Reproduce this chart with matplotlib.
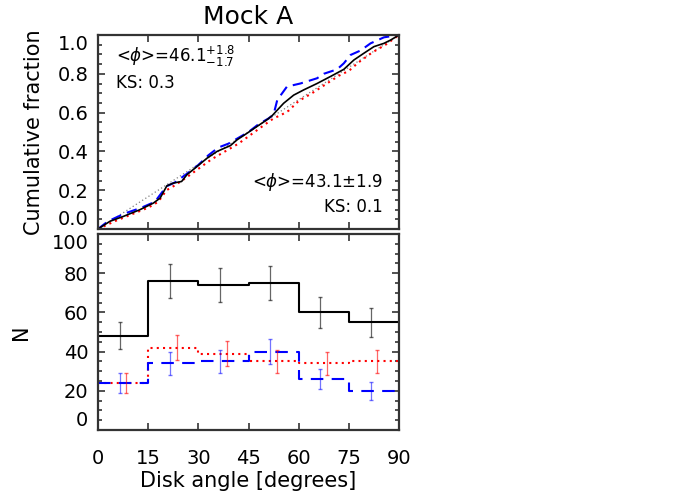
import numpy as np
import matplotlib
matplotlib.use("Agg")
import matplotlib.pyplot as plt
from matplotlib.ticker import MultipleLocator

# ---- Data ----
bin_edges = [0, 15, 30, 45, 60, 75, 90]
n_black = [48, 76, 74, 75, 60, 55]
n_red = [24, 42, 39, 35, 34, 35]
n_blue = [24, 34, 35, 40, 26, 20]

cum_black_x = [0, 3.6, 7.6, 12.6, 16.6, 18.6, 20.6, 22.6, 25, 26.6, 29.6, 32.6, 35.6, 39.6,
               41.6, 44.6, 47.5, 50.5, 52, 55.5, 58.5, 61.5, 65.5, 69.5, 73.5, 76.5, 79.5,
               82.5, 85.5, 87.5, 90]
cum_black_y = [0, 0.04, 0.065, 0.10, 0.134, 0.16, 0.223, 0.237, 0.245, 0.28, 0.322, 0.365, 0.40,
               0.43, 0.46, 0.494, 0.528, 0.563, 0.583, 0.648, 0.69, 0.717, 0.75, 0.786, 0.823,
               0.871, 0.906, 0.94, 0.957, 0.974, 1.0]

cum_blue_x = [0, 3, 8, 13, 17, 20.5, 23, 27, 30, 33, 36, 39, 42, 45, 48, 51, 52.5, 53.6, 56.5,
              60.5, 65.5, 67.5, 71.5, 73.5, 75.5, 78.5, 81.5, 85.5, 90]
cum_blue_y = [0, 0.04, 0.08, 0.11, 0.14, 0.22, 0.24, 0.29, 0.33, 0.38, 0.42, 0.44, 0.47, 0.50,
              0.54, 0.57, 0.59, 0.665, 0.734, 0.75, 0.777, 0.80, 0.823, 0.854, 0.897, 0.92,
              0.957, 0.988, 1.0]

cum_red_x = [0, 5, 10, 15, 18, 20.5, 23, 26, 30, 34, 38, 42, 46, 50, 52.5, 55, 57, 60, 64, 68,
             72, 75, 78, 82, 86, 90]
cum_red_y = [0, 0.04, 0.075, 0.11, 0.14, 0.20, 0.225, 0.26, 0.31, 0.36, 0.40, 0.44, 0.49, 0.54,
             0.57, 0.59, 0.61, 0.66, 0.70, 0.745, 0.79, 0.815, 0.86, 0.91, 0.95, 1.0]

uniform_x = [0, 90]
uniform_y = [0, 1]

top_yticks = [0.0, 0.2, 0.4, 0.6, 0.8, 1.0]
top_yticklabels = ["0.0", "0.2", "0.4", "0.6", "0.8", "1.0"]
bot_yticks = [0, 20, 40, 60, 80, 100]
bot_yticklabels = ["0", "20", "40", "60", "80", "100"]
xticks = [0, 15, 30, 45, 60, 75, 90]

text_top = r"<$\phi$>=46.1$^{+1.8}_{-1.7}$"
text_ks_top = "KS: 0.3"
text_bot = r"<$\phi$>=43.1$\pm$1.9"
text_ks_bot = "KS: 0.1"

# ---- Figure ----
fig = plt.figure(figsize=(7, 5), dpi=100)
ax1 = fig.add_axes([0.14, 0.542, 0.43, 0.388])
ax2 = fig.add_axes([0.14, 0.14, 0.43, 0.392])

spine_c = "#333333"
for ax in (ax1, ax2):
    for s in ax.spines.values():
        s.set_linewidth(1.6)
        s.set_color(spine_c)
    ax.tick_params(which="both", direction="in", top=True, right=True, color=spine_c,
                   labelsize=14, width=1.2)
    ax.tick_params(which="major", length=5)
    ax.tick_params(which="minor", length=3)
    ax.tick_params(axis="y", pad=7)
    ax.tick_params(axis="x", pad=14)
    ax.set_xlim(0, 90)
    ax.set_xticks(xticks)

# Top panel
ax1.plot(uniform_x, uniform_y, color="grey", ls=(0, (1, 2)), lw=0.9)
ax1.plot(cum_red_x, cum_red_y, color="red", ls=(0, (1, 2)), lw=1.5)
ax1.plot(cum_blue_x, cum_blue_y, color="blue", ls=(0, (5, 3)), lw=1.5)
ax1.plot(cum_black_x, cum_black_y, color="black", lw=1.2)
ax1.set_ylim(0, 1.0)
ax1.set_yticks(top_yticks)
ax1.set_yticklabels(top_yticklabels)
ax1.yaxis.set_minor_locator(MultipleLocator(0.05))
ax1.tick_params(labelbottom=False)
ax1.set_ylabel("Cumulative fraction", fontsize=15, labelpad=10)
ax1.set_title("Mock A", fontsize=18, pad=8)
fs = 12
ax1.text(0.06, 0.955, text_top, transform=ax1.transAxes, fontsize=fs, va="top", ha="left")
ax1.text(0.06, 0.80, text_ks_top, transform=ax1.transAxes, fontsize=fs, va="top", ha="left")
ax1.text(0.945, 0.24, text_bot, transform=ax1.transAxes, fontsize=fs, va="center", ha="right")
ax1.text(0.945, 0.115, text_ks_bot, transform=ax1.transAxes, fontsize=fs, va="center", ha="right")

# Bottom panel
edges = np.array(bin_edges, dtype=float)
centers = 0.5 * (edges[:-1] + edges[1:])


def step_vals(v):
    return list(v) + [v[-1]]


ax2.step(edges, step_vals(n_black), where="post", color="black", lw=1.5)
ax2.step(edges, step_vals(n_red), where="post", color="red", ls=(0, (1, 2)), lw=1.5)
ax2.step(edges, step_vals(n_blue), where="post", color="blue", ls=(0, (6, 4)), lw=1.5)

ax2.errorbar(centers - 1, n_black, yerr=np.sqrt(n_black), fmt="none", ecolor="black",
             alpha=0.6, elinewidth=0.9, capsize=1.5)
ax2.errorbar(centers - 1, n_blue, yerr=np.sqrt(n_blue), fmt="none", ecolor="blue",
             alpha=0.55, elinewidth=0.9, capsize=1.5)
ax2.errorbar(centers + 1, n_red, yerr=np.sqrt(n_red), fmt="none", ecolor="red",
             alpha=0.6, elinewidth=0.9, capsize=1.5)

ax2.set_ylim(0, 100)
ax2.set_yticks(bot_yticks)
ax2.set_yticklabels(bot_yticklabels)
ax2.yaxis.set_minor_locator(MultipleLocator(5))
ax2.set_ylabel("N", fontsize=15, labelpad=15)
ax2.set_xlabel("Disk angle [degrees]", fontsize=15, labelpad=2)

# IDL-style: end labels pulled inside the axis range
for ax in (ax1, ax2):
    labs = ax.get_yticklabels()
    labs[0].set_va("bottom")
    labs[-1].set_va("top")

fig.savefig("out.png", dpi=100)
